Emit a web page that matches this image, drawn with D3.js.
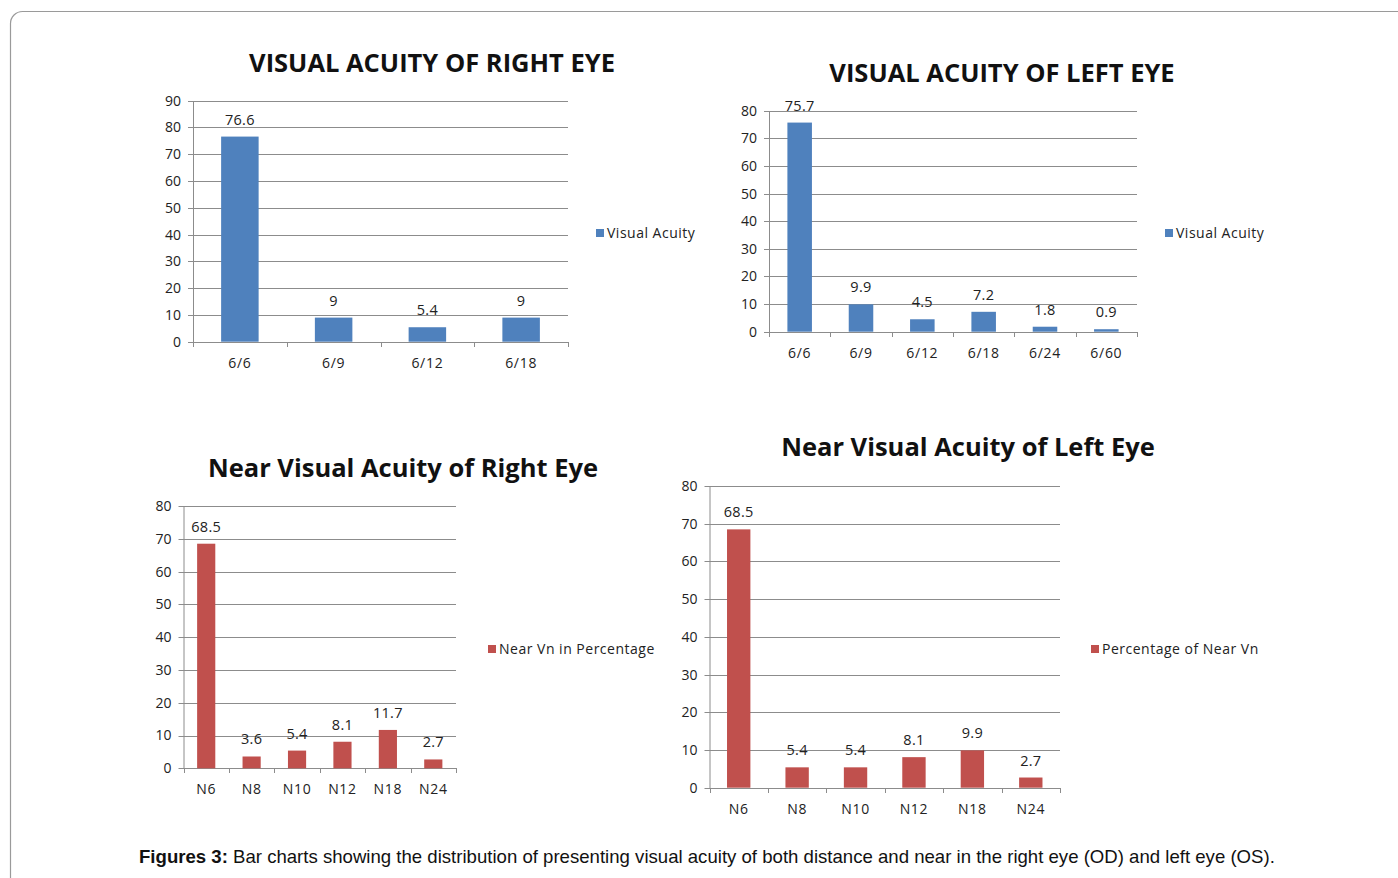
<!DOCTYPE html>
<html>
<head>
<meta charset="utf-8">
<script src="https://cdn.jsdelivr.net/npm/d3@7"></script>
<style>
  body { margin: 0; background: #fff; }
  svg { display: block; }
  .tick text { font-family: "Open Sans", sans-serif; font-size: 14px; fill: #222; }
  .xcat .tick text { letter-spacing: 0.7px; }
</style>
</head>
<body>
<svg id="fig" width="1398" height="878"></svg>
<script>
"use strict";

// distance acuity
var rightCats = ["6/6", "6/9", "6/12", "6/18"];
var rightVals = [76.6, 9, 5.4, 9];
var leftCats = ["6/6", "6/9", "6/12", "6/18", "6/24", "6/60"];
var leftVals = [75.7, 9.9, 4.5, 7.2, 1.8, 0.9];

// near acuity
var nearCats = ["N6", "N8", "N10", "N12", "N18", "N24"];
var nearRightVals = [68.5, 3.6, 5.4, 8.1, 11.7, 2.7];
var nearLeftVals = [68.5, 5.4, 5.4, 8.1, 9.9, 2.7];

var titles = [
    "VISUAL ACUITY OF RIGHT EYE",
    "VISUAL ACUITY OF LEFT EYE",
    "Near Visual Acuity of Right Eye",
    "Near Visual Acuity of Left Eye"
];
var legends = ["Visual Acuity", "Visual Acuity", "Near Vn in Percentage", "Percentage of Near Vn"];
var yMax = [90, 80, 80, 80];

var BLUE = "#4f81bd";
var RED = "#c0504d";

var svg = d3.select("#fig");

// outer frame
svg.append("rect")
    .attr("x", 10.5).attr("y", 11.5)
    .attr("width", 1420).attr("height", 900)
    .attr("rx", 12)
    .attr("fill", "none")
    .attr("stroke", "#9a9a9a")
    .attr("stroke-width", 1.2);

var panels = [
    { cats: rightCats, vals: rightVals, color: BLUE, x0: 193, x1: 568, yTop: 100.7, y0: 341.7,
      tx: 432, ty: 72, lx: 596, ly: 233 },
    { cats: leftCats, vals: leftVals, color: BLUE, x0: 769, x1: 1137, yTop: 110.7, y0: 331.7,
      tx: 1002, ty: 82, lx: 1165, ly: 233 },
    { cats: nearCats, vals: nearRightVals, color: RED, x0: 183.5, x1: 456, yTop: 506, y0: 768.3,
      tx: 403, ty: 477, lx: 488, ly: 649 },
    { cats: nearCats, vals: nearLeftVals, color: RED, x0: 709.5, x1: 1060, yTop: 486, y0: 787.7,
      tx: 968, ty: 456, lx: 1091, ly: 649 }
];

panels.forEach(function(p, i) {
    drawPanel(p, titles[i], legends[i], yMax[i]);
});

function drawPanel(p, title, legend, max) {
    var g = svg.append("g");

    var x = d3.scaleBand().domain(p.cats).range([p.x0, p.x1]);
    var y = d3.scaleLinear().domain([0, max]).range([p.y0, p.yTop]);
    var ticks = d3.range(0, max + 1, 10);

    // gridlines
    g.append("g").selectAll("line")
        .data(ticks)
        .join("line")
        .attr("x1", p.x0 - 5).attr("x2", p.x1)
        .attr("y1", d => Math.round(y(d)) + 0.5)
        .attr("y2", d => Math.round(y(d)) + 0.5)
        .attr("stroke", "#8c8c8c")
        .attr("stroke-width", 1);

    // y axis
    var yAxis = g.append("g")
        .attr("transform", `translate(${p.x0},0)`)
        .call(d3.axisLeft(y).tickValues(ticks).tickSize(0).tickPadding(12));
    yAxis.select(".domain").attr("stroke", "#8c8c8c");

    // x axis
    var xAxis = g.append("g")
        .attr("class", "xcat")
        .attr("transform", `translate(0,${Math.round(p.y0) + 0.5})`)
        .call(d3.axisBottom(x).tickSize(0).tickPadding(16));
    xAxis.select(".domain").remove();
    xAxis.selectAll(".tick text").attr("dy", "0.71em");

    // category boundary ticks
    var edges = p.cats.map(c => x(c)).concat([p.x1]);
    g.append("g").selectAll("line")
        .data(edges)
        .join("line")
        .attr("x1", d => Math.round(d) + 0.5).attr("x2", d => Math.round(d) + 0.5)
        .attr("y1", Math.round(p.y0)).attr("y2", Math.round(p.y0) + 5)
        .attr("stroke", "#8c8c8c");

    // bars
    var bw = x.bandwidth() * 0.4;
    g.append("g").selectAll("rect")
        .data(p.vals)
        .join("rect")
        .attr("x", (d, j) => x(p.cats[j]) + (x.bandwidth() - bw) / 2)
        .attr("width", bw)
        .attr("y", d => y(d))
        .attr("height", d => p.y0 - y(d))
        .attr("fill", p.color);

    // value labels
    g.append("g").selectAll("text")
        .data(p.vals)
        .join("text")
        .attr("x", (d, j) => x(p.cats[j]) + x.bandwidth() / 2)
        .attr("y", d => y(d) - 12)
        .attr("text-anchor", "middle")
        .attr("font-family", "Open Sans, sans-serif")
        .attr("font-size", 14.5)
        .attr("letter-spacing", 0.3)
        .attr("fill", "#222")
        .text(d => d);

    // title
    g.append("text")
        .attr("x", p.tx).attr("y", p.ty)
        .attr("text-anchor", "middle")
        .attr("font-family", "Open Sans, sans-serif")
        .attr("font-weight", "bold")
        .attr("font-size", 25.5)
        .attr("fill", "#111")
        .text(title);

    // legend
    g.append("rect")
        .attr("x", p.lx).attr("y", p.ly - 4)
        .attr("width", 8).attr("height", 8)
        .attr("fill", p.color);
    g.append("text")
        .attr("x", p.lx + 11).attr("y", p.ly + 5)
        .attr("font-family", "Open Sans, sans-serif")
        .attr("font-size", 14)
        .attr("letter-spacing", 0.5)
        .attr("fill", "#222")
        .text(legend);
}

// caption
var cap = svg.append("text")
    .attr("x", 139).attr("y", 863)
    .attr("font-family", "Liberation Sans, Arial, sans-serif")
    .attr("font-size", 18.6)
    .attr("fill", "#111");
cap.append("tspan").attr("font-weight", "bold").text("Figures 3:");
cap.append("tspan").text(" Bar charts showing the distribution of presenting visual acuity of both distance and near in the right eye (OD) and left eye (OS).");
</script>
</body>
</html>
